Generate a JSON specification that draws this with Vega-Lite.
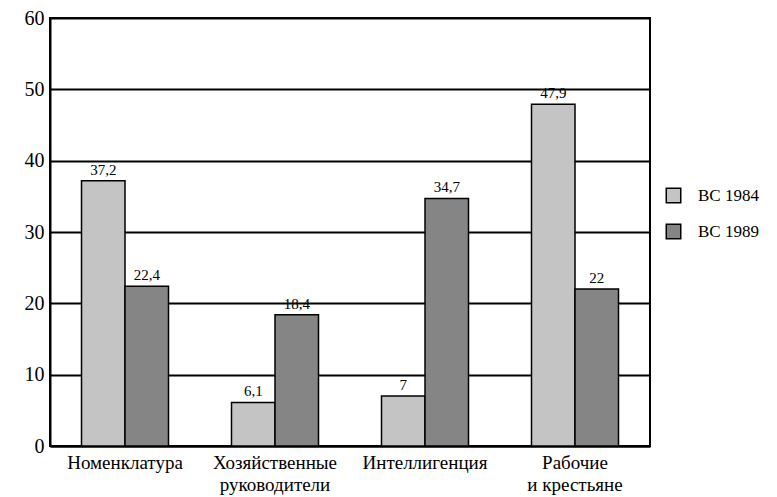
{
  "$schema": "https://vega.github.io/schema/vega-lite/v6.json",
  "width": 600,
  "height": 428,
  "autosize": {"type": "none"},
  "padding": {"left": 50, "top": 18, "right": 127, "bottom": 51},
  "background": "white",
  "config": {
    "locale": {"number": {"decimal": ",", "thousands": " ", "grouping": [3], "currency": ["", " ₽"]}},
    "font": "Liberation Serif",
    "view": {"stroke": "black", "strokeWidth": 2}
  },
  "data": {
    "values": [
      {"group": "Номенклатура", "series": "ВС 1984", "value": 37.2},
      {"group": "Номенклатура", "series": "ВС 1989", "value": 22.4},
      {"group": "Хозяйственные руководители", "series": "ВС 1984", "value": 6.1},
      {"group": "Хозяйственные руководители", "series": "ВС 1989", "value": 18.4},
      {"group": "Интеллигенция", "series": "ВС 1984", "value": 7},
      {"group": "Интеллигенция", "series": "ВС 1989", "value": 34.7},
      {"group": "Рабочие и крестьяне", "series": "ВС 1984", "value": 47.9},
      {"group": "Рабочие и крестьяне", "series": "ВС 1989", "value": 22}
    ]
  },
  "encoding": {
    "x": {
      "field": "group", "type": "nominal", "sort": null, "title": null,
      "scale": {"paddingInner": 0.42, "paddingOuter": 0.21},
      "axis": {
        "labelAngle": 0, "ticks": false, "domainColor": "black", "domainWidth": 2,
        "labelFont": "Liberation Serif", "labelFontSize": 19, "labelColor": "black", "labelPadding": 7,
        "labelLineHeight": 22,
        "labelExpr": "datum.value == 'Хозяйственные руководители' ? ['Хозяйственные', 'руководители'] : datum.value == 'Рабочие и крестьяне' ? ['Рабочие', 'и крестьяне'] : datum.value"
      }
    },
    "xOffset": {"field": "series", "type": "nominal"},
    "y": {
      "field": "value", "type": "quantitative", "title": null,
      "scale": {"domain": [0, 60], "nice": false},
      "axis": {
        "values": [0, 10, 20, 30, 40, 50, 60], "ticks": false, "grid": true,
        "gridColor": "black", "gridWidth": 2, "gridOpacity": 1,
        "domainColor": "black", "domainWidth": 2,
        "labelFont": "Liberation Serif", "labelFontSize": 20, "labelColor": "black", "labelPadding": 6
      }
    }
  },
  "layer": [
    {
      "mark": {"type": "bar", "stroke": "black", "strokeWidth": 1.5},
      "encoding": {
        "fill": {
          "field": "series", "type": "nominal", "title": null,
          "scale": {"domain": ["ВС 1984", "ВС 1989"], "range": ["#c4c4c4", "#858585"]},
          "legend": {
            "orient": "none", "legendX": 615, "legendY": 169,
            "symbolType": "square", "symbolSize": 210, "symbolStrokeColor": "black", "symbolStrokeWidth": 1.5,
            "labelFont": "Liberation Serif", "labelFontSize": 17, "labelColor": "black",
            "rowPadding": 15, "labelOffset": 16
          }
        }
      }
    },
    {
      "mark": {"type": "text", "baseline": "bottom", "dy": -3, "fontSize": 15, "font": "Liberation Serif", "fill": "black"},
      "encoding": {
        "text": {"field": "value", "type": "quantitative", "format": "~g"}
      }
    }
  ]
}
